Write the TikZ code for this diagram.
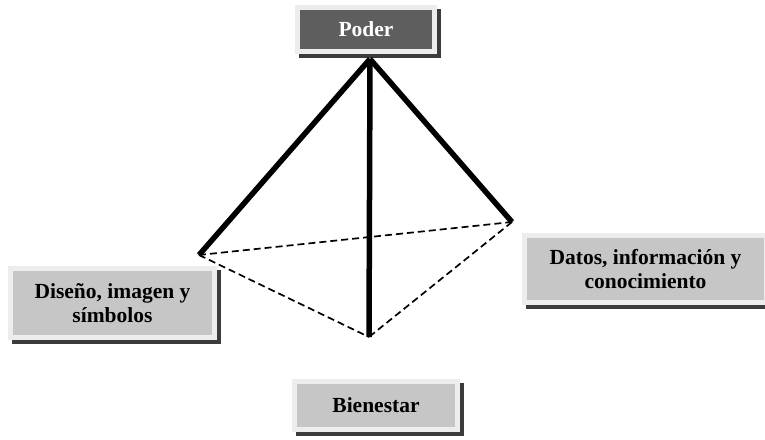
\documentclass[tikz,border=0pt]{standalone}
\usepackage{fontspec}
\setmainfont{Liberation Serif}
\definecolor{framegray}{HTML}{EDEDED}
\definecolor{boxgray}{HTML}{C6C6C6}
\definecolor{darkbox}{HTML}{5E5E5E}
\definecolor{shadowgray}{HTML}{3C3C3C}
\begin{document}
\begin{tikzpicture}[x=1pt,y=-1pt,
  label/.style={font=\bfseries\fontsize{21.5}{24}\selectfont, align=center},
  panel/.style={rectangle, draw=framegray, line width=5pt, fill=boxgray,
    inner sep=0pt, label,
    preaction={draw=shadowgray, fill=shadowgray, line width=5pt,
      transform canvas={shift={(3.5pt,-3.5pt)}}}},
  edge/.style={line width=5.5pt, line cap=butt},
  hidden/.style={line width=1.7pt, dash pattern=on 7pt off 4pt}]
\useasboundingbox (0,0) rectangle (765,439);

% labelled panels
\node[panel, fill=darkbox, text=white, minimum width=137pt, minimum height=44pt]
  (poder) at (366,29.5) {Poder};
\node[panel, minimum width=204pt, minimum height=69pt]
  (diseno) at (112.5,303) {Diseño, imagen y\\símbolos};
\node[panel, minimum width=242pt, minimum height=67pt]
  (datos) at (645.5,269) {Datos, información y\\conocimiento};
\node[panel, minimum width=163pt, minimum height=48pt]
  (bienestar) at (376,405.5) {Bienestar};

% corners of the pyramid
\coordinate (apex) at (370,59);
\coordinate (left) at (199,255);
\coordinate (right) at (512,222);
\coordinate (bottom) at (369,337);

% hidden edges of the base
\draw[hidden] (left) -- (right);
\draw[hidden] (left) -- (bottom);
\draw[hidden] (right) -- (bottom);

% visible edges from the apex
\draw[edge] (apex) -- (left);
\draw[edge] (apex) -- (right);
\draw[edge] (apex) -- (bottom);
\end{tikzpicture}
\end{document}
